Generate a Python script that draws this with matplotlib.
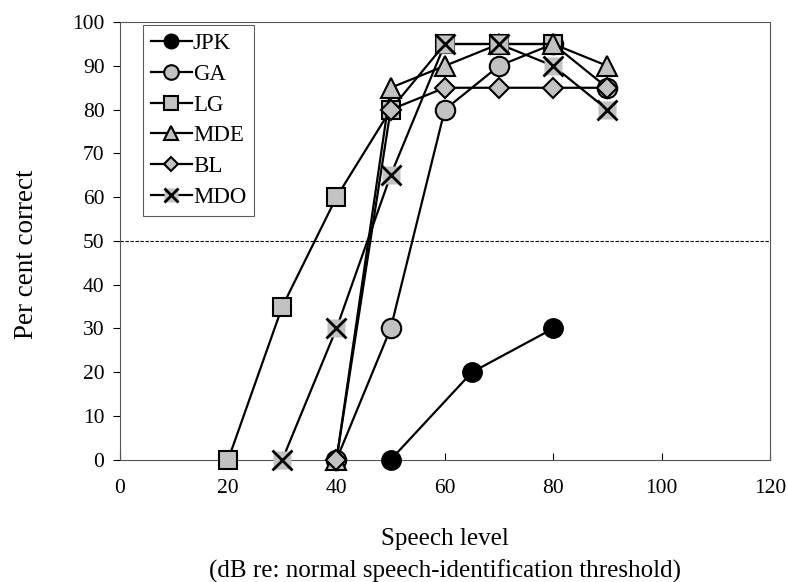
import numpy as np
import matplotlib
matplotlib.use("Agg")
from matplotlib import pyplot as plt
from matplotlib.lines import Line2D

plt.rcParams['font.family'] = ['Liberation Serif', 'DejaVu Serif']

# data
jpk_x = [50, 65, 80]
jpk_y = [0, 20, 30]
ga_x = [40, 50, 60, 70, 80, 90]
ga_y = [0, 30, 80, 90, 95, 85]
lg_x = [20, 30, 40, 50, 60, 70, 80]
lg_y = [0, 35, 60, 80, 95, 95, 95]
mde_x = [40, 50, 60, 70, 80, 90]
mde_y = [0, 85, 90, 95, 95, 90]
bl_x = [40, 50, 60, 70, 80, 90]
bl_y = [0, 80, 85, 85, 85, 85]
mdo_x = [30, 40, 50, 60, 70, 80, 90]
mdo_y = [0, 30, 65, 95, 95, 90, 80]

xticks = [0, 20, 40, 60, 80, 100, 120]
yticks = [0, 10, 20, 30, 40, 50, 60, 70, 80, 90, 100]

grey = '#c2c2c2'
lw = 1.6
ms = 14

fig = plt.figure(figsize=(7.88, 5.82), dpi=100)
ax = fig.add_axes([0.152, 0.21, 0.825, 0.752])

ax.axhline(50, color='black', lw=0.8, ls=(0, (3, 1.5)), zorder=1)

h_jpk, = ax.plot(jpk_x, jpk_y, '-o', color='black', lw=lw, ms=ms,
                 mfc='black', mec='black', zorder=3, clip_on=False)
h_ga, = ax.plot(ga_x, ga_y, '-o', color='black', lw=lw, ms=ms,
                mfc=grey, mec='black', mew=1.5, zorder=3, clip_on=False)
h_lg, = ax.plot(lg_x, lg_y, '-s', color='black', lw=lw, ms=ms - 1,
                mfc=grey, mec='black', mew=1.5, zorder=3, clip_on=False)
h_mde, = ax.plot(mde_x, mde_y, '-^', color='black', lw=lw, ms=ms,
                 mfc=grey, mec='black', mew=1.5, zorder=4, clip_on=False)
h_bl, = ax.plot(bl_x, bl_y, '-D', color='black', lw=lw, ms=ms - 4,
                mfc=grey, mec='black', mew=1.5, zorder=4, clip_on=False)
# MDO: x marker on grey square background
ax.plot(mdo_x, mdo_y, '-', color='black', lw=lw, zorder=4, clip_on=False)
ax.plot(mdo_x, mdo_y, 's', ms=ms - 1, mfc=grey, mec='none', zorder=5,
        clip_on=False)
ax.plot(mdo_x, mdo_y, 'x', ms=ms, mec='black', mew=2, zorder=5,
        clip_on=False)

h_mdo_bg = Line2D([], [], ls='-', color='black', lw=lw, marker='s',
                  ms=ms - 1, mfc=grey, mec='none')
h_mdo_x = Line2D([], [], ls='none', marker='x', ms=ms, mec='black', mew=2)

leg = ax.legend([h_jpk, h_ga, h_lg, h_mde, h_bl, (h_mdo_bg, h_mdo_x)],
                ['JPK', 'GA', 'LG', 'MDE', 'BL', 'MDO'],
                loc='upper left', bbox_to_anchor=(0.035, 0.993),
                fontsize=16.5, frameon=True, fancybox=False, markerscale=0.75,
                handlelength=1.8, handletextpad=0.05, labelspacing=0.42,
                borderpad=0.35, borderaxespad=0)
leg.get_frame().set_edgecolor('#333333')
leg.get_frame().set_linewidth(0.8)

ax.set_xlim(0, 120)
ax.set_ylim(0, 100)
ax.set_xticks(xticks)
ax.set_yticks(yticks)
ax.tick_params(axis='x', direction='in', length=5, labelsize=15.5, pad=14)
ax.tick_params(axis='y', direction='out', length=5, labelsize=15.5, pad=6)
for s in ax.spines.values():
    s.set_color('#555555')
    s.set_linewidth(0.8)

ax.set_ylabel('Per cent correct', fontsize=19.5)
ax.yaxis.set_label_coords(-0.125, 0.47)
fig.text(0.565, 0.063, 'Speech level', ha='center', fontsize=18)
fig.text(0.565, 0.008, '(dB re: normal speech-identification threshold)',
         ha='center', fontsize=18)

fig.savefig('out.png', dpi=100)
